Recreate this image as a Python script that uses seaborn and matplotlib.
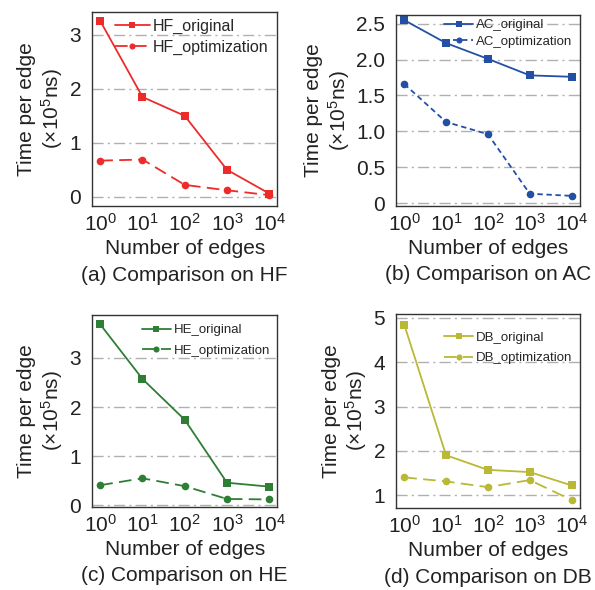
import numpy as np
import matplotlib
matplotlib.use('Agg')
import matplotlib.pyplot as plt
import pandas as pd
import seaborn as sns

sns.set_style('white')
plt.rcParams['font.family'] = ['Liberation Sans', 'DejaVu Sans']
plt.rcParams['mathtext.fontset'] = 'custom'
plt.rcParams['mathtext.rm'] = 'Liberation Sans'
plt.rcParams['mathtext.it'] = 'Liberation Sans:italic'
plt.rcParams['mathtext.default'] = 'regular'

edges = [1, 10, 100, 1000, 10000]
xtick_labels = ['$10^{0}$', '$10^{1}$', '$10^{2}$', '$10^{3}$', '$10^{4}$']

hf_original = [3.26, 1.85, 1.50, 0.50, 0.06]
hf_optimization = [0.67, 0.69, 0.22, 0.12, 0.03]
ac_original = [2.55, 2.23, 2.01, 1.78, 1.76]
ac_optimization = [1.66, 1.13, 0.96, 0.13, 0.10]
he_original = [3.68, 2.57, 1.74, 0.46, 0.38]
he_optimization = [0.41, 0.55, 0.39, 0.13, 0.12]
db_original = [4.85, 1.90, 1.57, 1.52, 1.22]
db_optimization = [1.40, 1.31, 1.18, 1.34, 0.89]

panels = [
    dict(name='HF', orig=hf_original, opt=hf_optimization, color='#ee2b2b',
         yticks=[0, 1, 2, 3], yticklabels=['0', '1', '2', '3'], ylim=(-0.17, 3.43),
         dash=(7, 3.5), pos=[0.155, 0.651, 0.311, 0.329], legsize=11.5, legy=1.01, lsp=0.35,
         caption='(a) Comparison on HF'),
    dict(name='AC', orig=ac_original, opt=ac_optimization, color='#2350a5',
         yticks=[0, 0.5, 1.0, 1.5, 2.0, 2.5], yticklabels=['0', '0.5', '1.0', '1.5', '2.0', '2.5'],
         ylim=(-0.04, 2.625), dash=(3, 2), pos=[0.666, 0.651, 0.308, 0.324], legsize=9.5,
         legy=1.015, lsp=0.3, caption='(b) Comparison on AC'),
    dict(name='HE', orig=he_original, opt=he_optimization, color='#2e7f35',
         yticks=[0, 1, 2, 3], yticklabels=['0', '1', '2', '3'], ylim=(-0.03, 3.87),
         dash=(7, 3.5), pos=[0.155, 0.141, 0.311, 0.325], legsize=9.5, legy=0.99, lsp=0.6,
         caption='(c) Comparison on HE'),
    dict(name='DB', orig=db_original, opt=db_optimization, color='#b9b935',
         yticks=[1, 2, 3, 4, 5], yticklabels=['1', '2', '3', '4', '5'], ylim=(0.71, 5.09),
         dash=(7, 3.5), pos=[0.666, 0.139, 0.308, 0.329], legsize=9.5, legy=0.945, lsp=0.6,
         caption='(d) Comparison on DB'),
]

fig = plt.figure(figsize=(5.95, 5.9), dpi=100)

for p in panels:
    ax = fig.add_axes(p['pos'])
    df = pd.DataFrame({'edges': edges, 'orig': p['orig'], 'opt': p['opt']})
    sns.lineplot(data=df, x='edges', y='orig', ax=ax, color=p['color'], marker='s',
                 markersize=5.5, markeredgewidth=0, linewidth=1.3, label=p['name'] + '_original')
    sns.lineplot(data=df, x='edges', y='opt', ax=ax, color=p['color'], marker='o',
                 markersize=5.5, markeredgewidth=0, linewidth=1.3, dashes=p['dash'],
                 label=p['name'] + '_optimization')
    ax.set_xscale('log')
    ax.set_xlim(10 ** -0.19, 10 ** 4.19)
    ax.set_ylim(*p['ylim'])
    ax.set_xticks(edges)
    ax.set_xticklabels(xtick_labels)
    ax.minorticks_off()
    ax.set_yticks(p['yticks'])
    ax.set_yticklabels(p['yticklabels'])
    for y in p['yticks']:
        ax.axhline(y, color='#b0b0b0', linewidth=1.0, dashes=(8, 3, 1.5, 3), zorder=0)
    ax.tick_params(axis='x', direction='in', length=3, color='#999999', labelsize=15,
                   labelcolor='#222222', pad=5)
    ax.tick_params(axis='y', length=0, labelsize=15, labelcolor='#222222', pad=8)
    for s in ax.spines.values():
        s.set_color('#333333')
        s.set_linewidth(1.0)
    ax.set_xlabel('Number of edges', fontsize=15, labelpad=3, color='#222222')
    ax.set_ylabel('Time per edge\n(×10$^{5}$ns)', fontsize=15, labelpad=3, linespacing=1.15,
                  color='#222222')
    ax.text(0.5, -0.36, p['caption'], transform=ax.transAxes, ha='center', va='center',
            fontsize=15, color='#222222')
    ax.legend(loc='upper right', bbox_to_anchor=(1.0, p['legy']), frameon=False,
              fontsize=p['legsize'], handlelength=2.2, handletextpad=0.2,
              labelspacing=p['lsp'], borderaxespad=0.15, markerscale=0.8)

fig.savefig('out.png', dpi=100)
